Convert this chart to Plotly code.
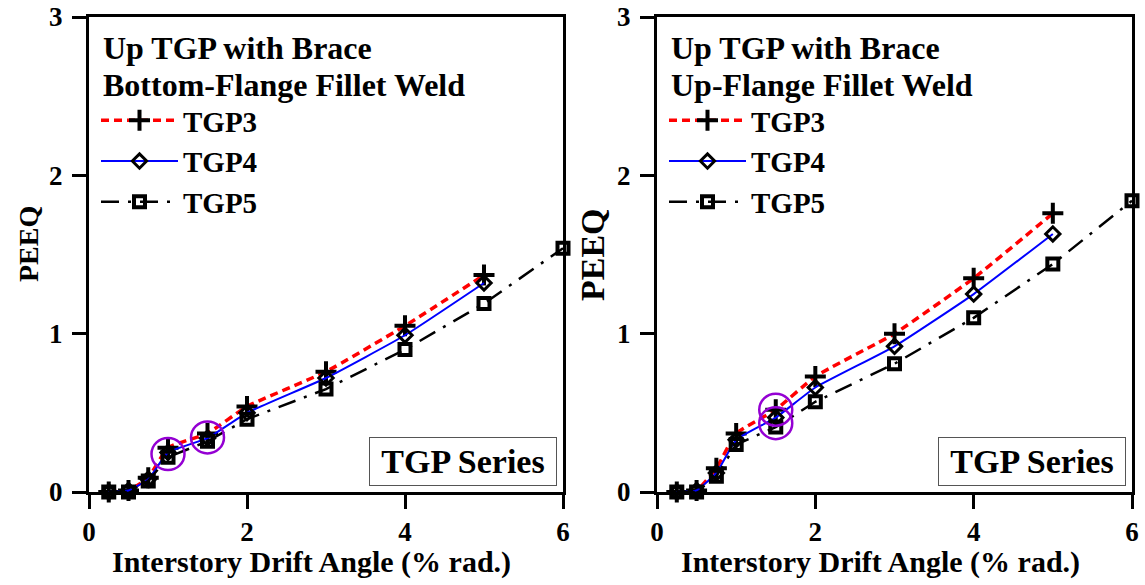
import plotly.graph_objects as go

# drift angle steps (% rad.)
drift = [0.25, 0.5, 0.75, 1.0, 1.5, 2.0, 3.0, 4.0, 5.0]
drift_tgp5 = [0.25, 0.5, 0.75, 1.0, 1.5, 2.0, 3.0, 4.0, 5.0, 6.0]

# bottom-flange fillet weld
tgp3_bottom = [0.0, 0.01, 0.09, 0.28, 0.37, 0.54, 0.76, 1.05, 1.37]
tgp4_bottom = [0.0, 0.01, 0.08, 0.25, 0.34, 0.50, 0.72, 0.99, 1.32]
tgp5_bottom = [0.0, 0.0, 0.07, 0.22, 0.32, 0.46, 0.65, 0.90, 1.19, 1.54]

# up-flange fillet weld
tgp3_up = [0.0, 0.01, 0.15, 0.37, 0.52, 0.73, 1.00, 1.35, 1.76]
tgp4_up = [0.0, 0.01, 0.12, 0.33, 0.47, 0.66, 0.92, 1.25, 1.63]
tgp5_up = [0.0, 0.0, 0.10, 0.30, 0.41, 0.57, 0.81, 1.10, 1.44, 1.84]

# highlighted points (circled)
circles_bottom = [(1.0, 0.24), (1.5, 0.345)]
circles_up = [(1.5, 0.52), (1.5, 0.435)]

W, H = 1145, 585
FONT = "Liberation Serif, Times New Roman, serif"


# screen pixel -> paper fraction (body margin is removed below)
def px(x):
    return x / W


def py(y):
    return 1 - y / H


fig = go.Figure()

panels = [
    ("x", "y", "legend", tgp3_bottom, tgp4_bottom, tgp5_bottom),
    ("x2", "y2", "legend2", tgp3_up, tgp4_up, tgp5_up),
]
for xa, ya, leg, s3, s4, s5 in panels:
    fig.add_trace(go.Scatter(
        x=drift, y=s3, name="TGP3", xaxis=xa, yaxis=ya, legend=leg,
        mode="lines+markers", cliponaxis=False,
        line=dict(color="#ff0000", width=3.5, dash="8px,5px", shape="spline", smoothing=0.4),
        marker=dict(symbol="cross-thin", size=15, color="black", line=dict(color="black", width=4))))
    fig.add_trace(go.Scatter(
        x=drift, y=s4, name="TGP4", xaxis=xa, yaxis=ya, legend=leg,
        mode="lines+markers", cliponaxis=False,
        line=dict(color="#0000ff", width=2, shape="spline", smoothing=0.4),
        marker=dict(symbol="diamond-open", size=11, color="black", line=dict(color="black", width=3))))
    fig.add_trace(go.Scatter(
        x=drift_tgp5, y=s5, name="TGP5", xaxis=xa, yaxis=ya, legend=leg,
        mode="lines+markers", cliponaxis=False,
        line=dict(color="black", width=2.5, dash="18px,9px,3px,9px"),
        marker=dict(symbol="square-open", size=11, color="black", line=dict(color="black", width=4))))

for xref, yref, pts in [("x", "y", circles_bottom), ("x2", "y2", circles_up)]:
    for cx, cy in pts:
        fig.add_shape(type="circle", xref=xref, yref=yref, xsizemode="pixel", ysizemode="pixel",
                      xanchor=cx, yanchor=cy, x0=-16.5, x1=16.5, y0=-16, y1=16,
                      line=dict(color="#9400d3", width=2.5))

axis_style = dict(showline=True, linecolor="black", linewidth=3, mirror=True,
                  ticks="outside", ticklen=14, tickwidth=3, tickcolor="black",
                  showgrid=False, zeroline=False, automargin=False,
                  ticklabeloverflow="allow",
                  tickfont=dict(family=FONT, size=27, color="black", weight="bold"))

legend_style = dict(xanchor="left", yanchor="top", bgcolor="rgba(0,0,0,0)",
                    itemwidth=77, tracegroupgap=0,
                    font=dict(family=FONT, size=29, color="black", weight="bold"))

fig.update_layout(
    width=W, height=H,
    template="none",
    margin=dict(l=0, r=0, t=0, b=0, autoexpand=False),
    paper_bgcolor="white", plot_bgcolor="white",
    font=dict(family=FONT, color="black", weight="bold"),
    xaxis=dict(domain=[px(89), px(563)], range=[0, 6], tickvals=[0, 2, 4, 6], anchor="y", **axis_style),
    yaxis=dict(domain=[py(492), py(17)], range=[0, 3], tickvals=[0, 1, 2, 3], anchor="x",
               ticklabelstandoff=4, **axis_style),
    xaxis2=dict(domain=[px(657), px(1132)], range=[0, 6], tickvals=[0, 2, 4, 6], anchor="y2", **axis_style),
    yaxis2=dict(domain=[py(492), py(17)], range=[0, 3], tickvals=[0, 1, 2, 3], anchor="x2",
                ticklabelstandoff=4, **axis_style),
    legend=dict(x=px(96), y=py(95), **legend_style),
    legend2=dict(x=px(664), y=py(95), **legend_style),
)

head_font = dict(family=FONT, size=32, color="black", weight="bold")
for x0, lines in [(101, ["Up TGP with Brace", "Bottom-Flange Fillet Weld"]),
                  (669, ["Up TGP with Brace", "Up-Flange Fillet Weld"])]:
    for text, yc in zip(lines, [48, 85]):
        fig.add_annotation(text=text, xref="paper", yref="paper", x=px(x0), y=py(yc),
                           xanchor="left", yanchor="middle", showarrow=False, font=head_font)

title_font = dict(family=FONT, size=30, color="black", weight="bold")
for xc in [311, 880]:
    fig.add_annotation(text="Interstory Drift Angle (% rad.)", xref="paper", yref="paper",
                       x=px(xc), y=py(562), xanchor="center", yanchor="middle",
                       showarrow=False, font=title_font)
for xc, yc, size in [(28, 244, 28), (592, 255, 34)]:
    fig.add_annotation(text="PEEQ", xref="paper", yref="paper", textangle=-90,
                       x=px(xc), y=py(yc), xanchor="center", yanchor="middle", showarrow=False,
                       font=dict(family=FONT, size=size, color="black", weight="bold"))

for xr, yr in [("x", "y"), ("x2", "y2")]:
    fig.add_annotation(text="TGP Series", xref=xr + " domain", yref=yr + " domain",
                       x=1, y=0, xanchor="right", yanchor="bottom", xshift=-6, yshift=6,
                       width=174, height=35, align="center", valign="middle",
                       showarrow=False, bordercolor="#555555", borderwidth=1, borderpad=6,
                       bgcolor="white",
                       font=dict(family=FONT, size=34, color="black", weight="bold"))

fig.write_html("out.html", config={"displayModeBar": False},
               post_script="document.body.style.margin = '0';")
